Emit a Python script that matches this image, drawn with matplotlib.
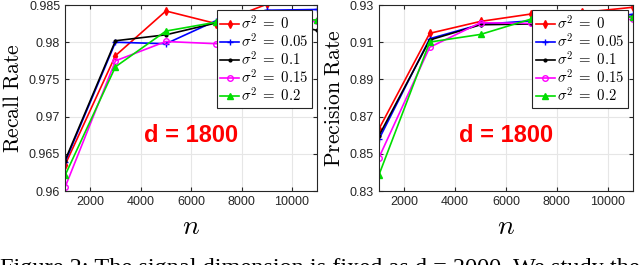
import matplotlib
matplotlib.use("Agg")
import matplotlib.pyplot as plt

plt.rcParams['mathtext.fontset'] = 'cm'

n = [1000, 3000, 5000, 7000, 9000, 11000]
sigma_labels = [r'$\sigma^2\;=\;0$', r'$\sigma^2\;=\;0.05$', r'$\sigma^2\;=\;0.1$',
                r'$\sigma^2\;=\;0.15$', r'$\sigma^2\;=\;0.2$']

recall_0 = [0.9635, 0.9782, 0.9842, 0.9825, 0.9851, 0.9858]
recall_005 = [0.9639, 0.9800, 0.9798, 0.9829, 0.9843, 0.9844]
recall_01 = [0.9641, 0.9802, 0.9810, 0.9826, 0.9830, 0.9816]
recall_015 = [0.9605, 0.9775, 0.9801, 0.9798, 0.9825, 0.9828]
recall_02 = [0.9621, 0.9767, 0.9815, 0.9827, 0.9830, 0.9830]

prec_0 = [0.8633, 0.9148, 0.9212, 0.9252, 0.9260, 0.9288]
prec_005 = [0.8578, 0.9119, 0.9196, 0.9215, 0.9225, 0.9250]
prec_01 = [0.8597, 0.9112, 0.9194, 0.9198, 0.9200, 0.9240]
prec_015 = [0.8479, 0.9073, 0.9205, 0.9201, 0.9215, 0.9223]
prec_02 = [0.8386, 0.9101, 0.9142, 0.9225, 0.9230, 0.9237]

colors = ['#ff0000', '#0000ff', '#000000', '#ff00ff', '#00dd00']
markers = ['d', '+', '.', 'o', '^']

fig = plt.figure(figsize=(6.4, 2.65), dpi=100)
ax1 = fig.add_axes([0.1016, 0.279, 0.394, 0.702])
ax2 = fig.add_axes([0.592, 0.279, 0.397, 0.702])

def plot_panel(ax, series, ylabel, ylim, yticks, yticklabels):
    for s, c, m, lab in zip(series, colors, markers, sigma_labels):
        mfc = 'none' if m == 'o' else c
        ax.plot(n, s, color=c, marker=m, markersize=4, mfc=mfc, mec=c,
                linewidth=1.2, label=lab, clip_on=True)
    ax.set_xlim(1000, 11000)
    ax.set_ylim(*ylim)
    ax.set_xticks([2000, 4000, 6000, 8000, 10000])
    ax.set_yticks(yticks)
    ax.set_yticklabels(yticklabels)
    ax.tick_params(direction='in', top=True, right=True, labelsize=9,
                   colors='#262626', length=3)
    for sp in ax.spines.values():
        sp.set_color('#262626')
        sp.set_linewidth(0.8)
    ax.grid(True, color='#e6e6e6', linewidth=0.8)
    ax.set_axisbelow(True)
    ax.set_ylabel(r'$\mathrm{' + ylabel.replace(' ', r'\ ') + '}$', fontsize=15.5, labelpad=4)
    ax.set_xlabel(r'$n$', fontsize=20, labelpad=3)
    ax.text(0.5, 0.3, 'd = 1800', transform=ax.transAxes, color='#ff0000',
            fontsize=17, fontweight='bold', ha='center', va='center',
            family='Liberation Sans')
    leg = ax.legend(loc='upper right', fontsize=10.7, handlelength=1.25,
                    handletextpad=0.15, labelspacing=0.0, borderpad=0.25,
                    borderaxespad=0.35, fancybox=False, framealpha=1)
    leg.get_frame().set_edgecolor('#262626')
    leg.get_frame().set_linewidth(0.8)

plot_panel(ax1, [recall_0, recall_005, recall_01, recall_015, recall_02],
           'Recall Rate', (0.96, 0.985),
           [0.96, 0.965, 0.97, 0.975, 0.98, 0.985],
           ['0.96', '0.965', '0.97', '0.975', '0.98', '0.985'])
plot_panel(ax2, [prec_0, prec_005, prec_01, prec_015, prec_02],
           'Precision Rate', (0.83, 0.93),
           [0.83, 0.85, 0.87, 0.89, 0.91, 0.93],
           ['0.83', '0.85', '0.87', '0.89', '0.91', '0.93'])

for ax in (ax1, ax2):
    for lab in ax.get_xticklabels() + ax.get_yticklabels():
        lab.set_family('Liberation Sans')

fig.text(0.0, 0.028, 'Figure 2: The signal dimension is fixed as d = 2000. We study the',
         family='Liberation Serif', fontsize=17.5, va='top', ha='left')

fig.savefig('out.png', dpi=100)
